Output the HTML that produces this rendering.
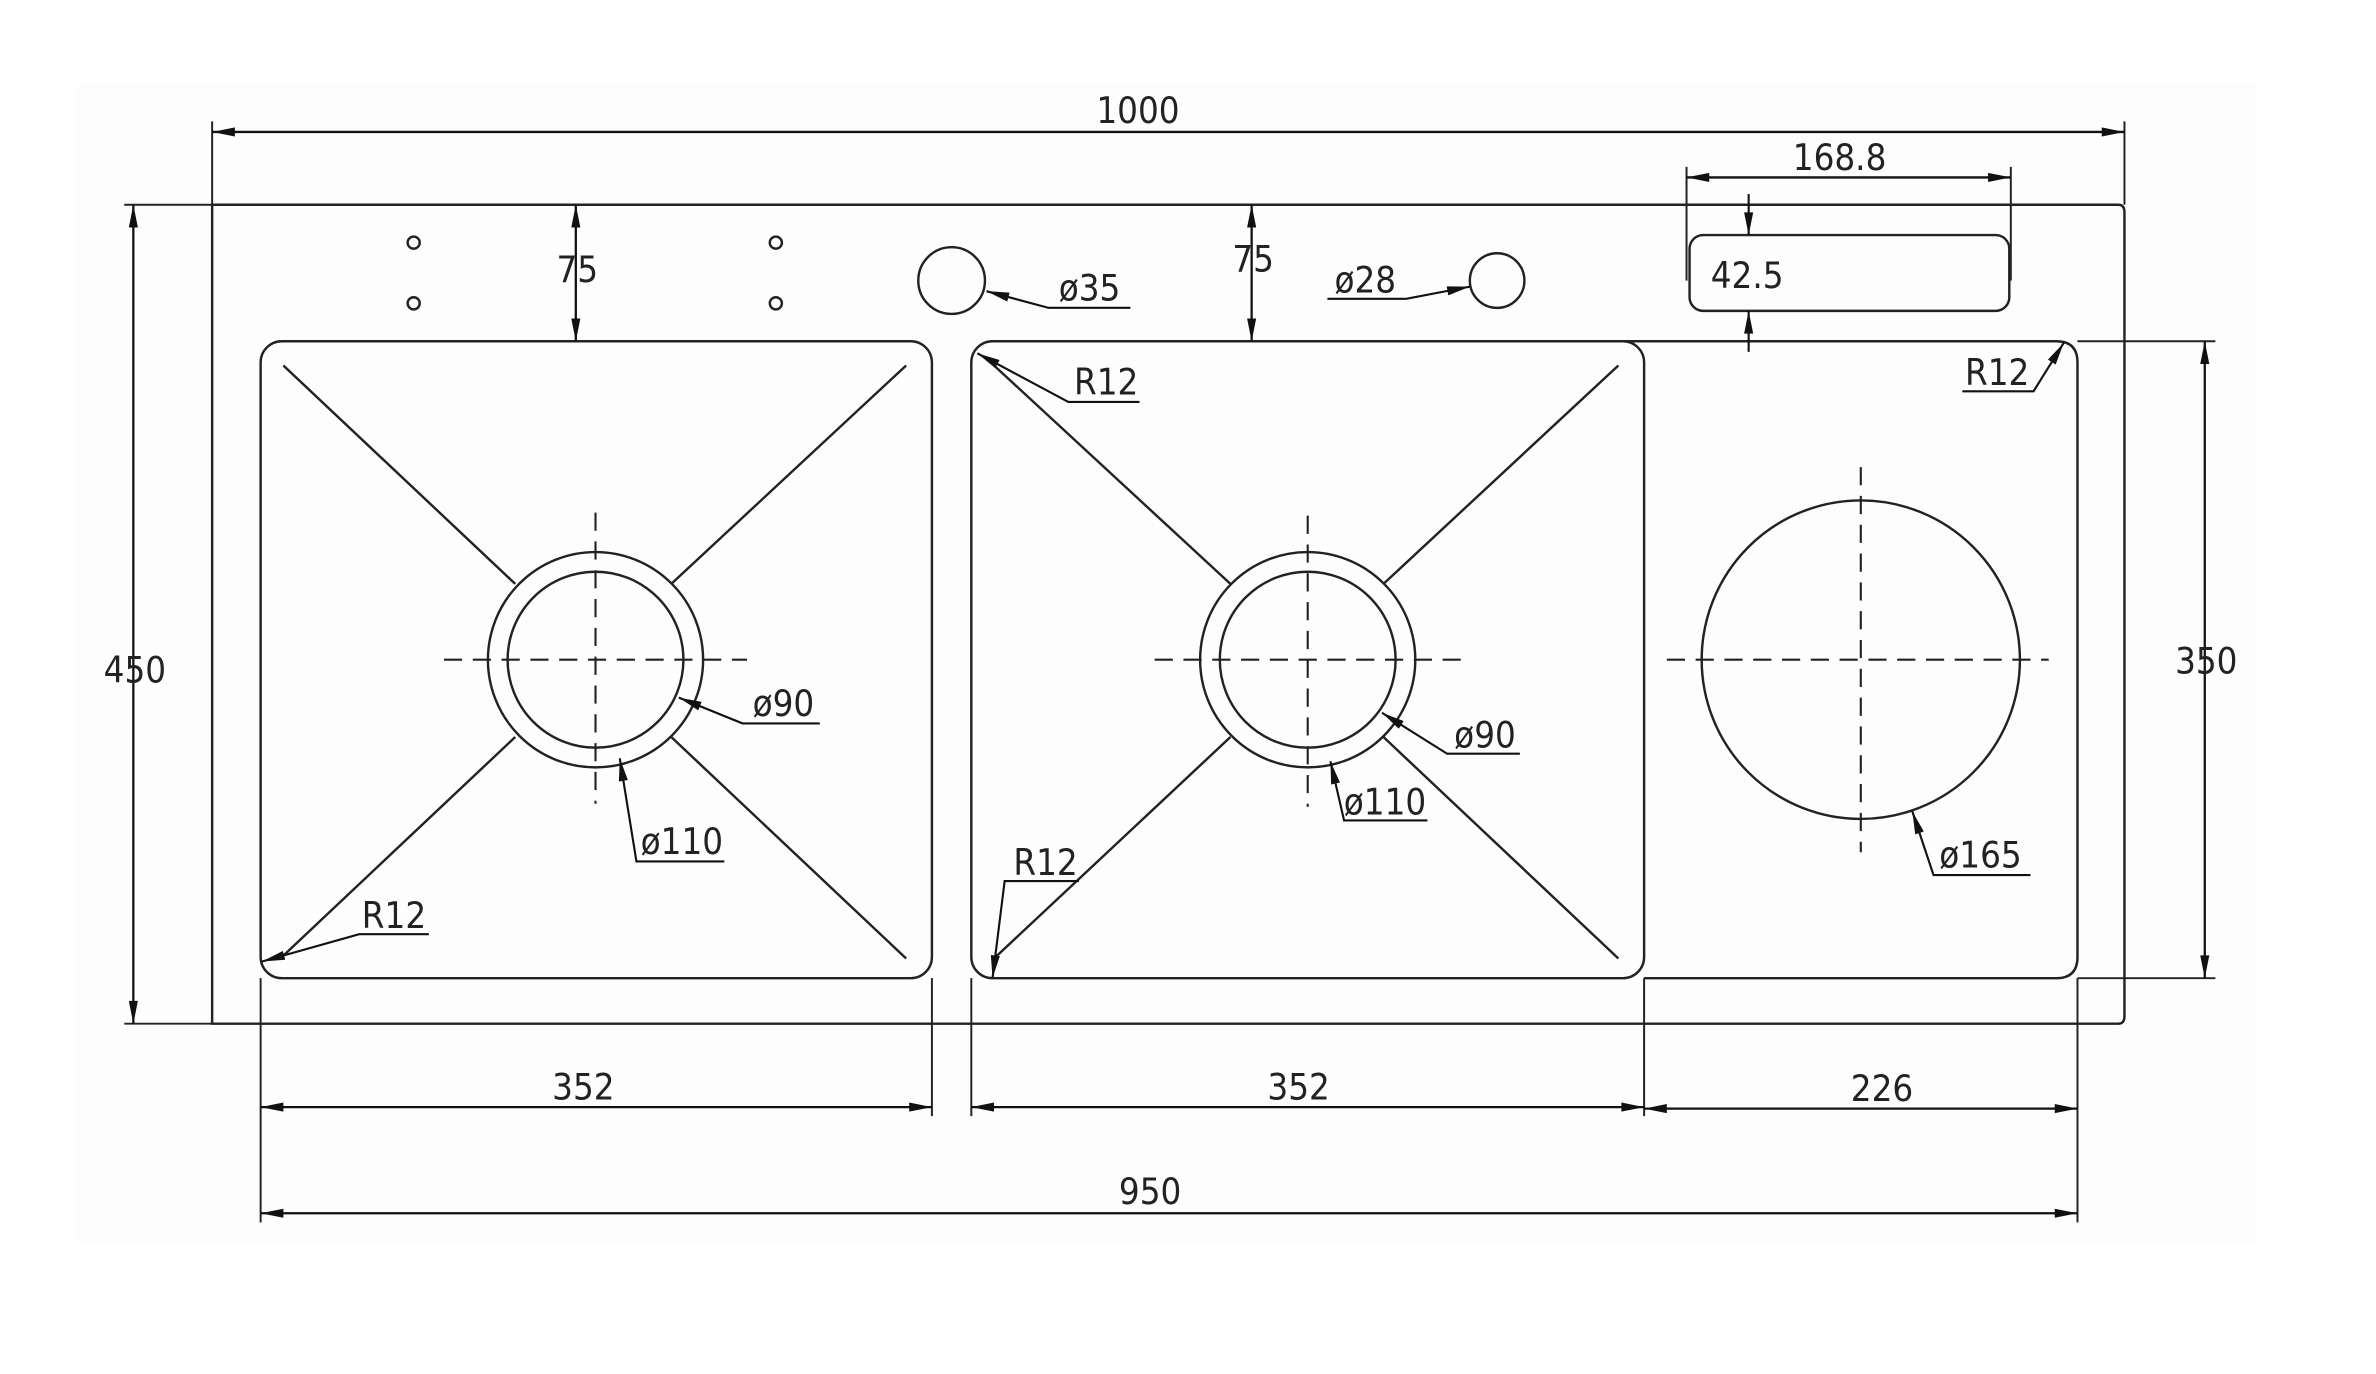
<!DOCTYPE html>
<html><head><meta charset="utf-8"><style>
html,body{margin:0;padding:0;background:#fff;width:2376px;height:1374px;overflow:hidden}
svg{display:block}
text{font-family:"DejaVu Sans Condensed","Liberation Sans Narrow","Liberation Sans",sans-serif;font-size:24px;fill:#222;text-anchor:middle;font-weight:300}
</style></head><body>
<svg width="2376" height="1374" viewBox="0 0 1568 906" preserveAspectRatio="none" xmlns="http://www.w3.org/2000/svg">
<defs>
<marker id="a" viewBox="0 0 10 4" refX="10" refY="2" markerWidth="16" markerHeight="6" markerUnits="userSpaceOnUse" orient="auto-start-reverse"><path d="M0,0 L10,2 L0,4 Z" fill="#111"/></marker>
</defs>
<rect x="50" y="55" width="1440" height="765" fill="#fdfdfd"/>
<g stroke="#222" stroke-width="1.6" fill="none">
<path d="M140,135 H1398 Q1402,135 1402,140 V670 Q1402,675 1398,675 H140 Z"/>
<rect x="172" y="225" width="443" height="420" rx="14"/>
<rect x="641" y="225" width="444" height="420" rx="14"/>
<path d="M1072,225 H1357 Q1371,225 1371,239 V631 Q1371,645 1357,645 H1085"/>
<line x1="187" y1="241" x2="340" y2="385"/><line x1="598" y1="241" x2="443" y2="385"/>
<line x1="340" y1="486" x2="185" y2="632"/><line x1="443" y1="486" x2="598" y2="632"/>
<line x1="656" y1="241" x2="812" y2="385"/><line x1="1068" y1="241" x2="913" y2="385"/>
<line x1="812" y1="486" x2="656" y2="632"/><line x1="913" y1="486" x2="1068" y2="632"/>
<circle cx="393" cy="435" r="71"/><circle cx="393" cy="435" r="58"/>
<circle cx="863" cy="435" r="71"/><circle cx="863" cy="435" r="58"/>
<circle cx="1228" cy="435" r="105"/>
<circle cx="273" cy="160" r="4"/><circle cx="273" cy="200" r="4"/>
<circle cx="512" cy="160" r="4"/><circle cx="512" cy="200" r="4"/>
<circle cx="628" cy="185" r="22"/><circle cx="988" cy="185" r="18"/>
<rect x="1115" y="155" width="211" height="50" rx="9"/>
</g>
<g stroke="#222" stroke-width="1.4" stroke-dasharray="12,7" fill="none">
<line x1="293" y1="435" x2="493" y2="435"/><line x1="393" y1="338" x2="393" y2="530"/>
<line x1="762" y1="435" x2="964" y2="435"/><line x1="863" y1="340" x2="863" y2="532"/>
<line x1="1100" y1="435" x2="1352" y2="435"/><line x1="1228" y1="308" x2="1228" y2="562"/>
</g>
<g stroke="#222" stroke-width="1.3" fill="none">
<line x1="140" y1="80" x2="140" y2="135"/><line x1="1402" y1="80" x2="1402" y2="135"/>
<line x1="82" y1="135" x2="140" y2="135"/><line x1="82" y1="675" x2="140" y2="675"/>
<line x1="1371" y1="225" x2="1462" y2="225"/><line x1="1371" y1="645" x2="1462" y2="645"/>
<line x1="1113" y1="110" x2="1113" y2="185"/><line x1="1327" y1="110" x2="1327" y2="185"/>
<line x1="172" y1="645" x2="172" y2="806"/><line x1="615" y1="645" x2="615" y2="736"/>
<line x1="641" y1="645" x2="641" y2="736"/><line x1="1085" y1="645" x2="1085" y2="736"/>
<line x1="1371" y1="645" x2="1371" y2="806"/>
</g>
<g stroke="#111" stroke-width="1.5" fill="none" marker-start="url(#a)" marker-end="url(#a)">
<line x1="140" y1="87" x2="1402" y2="87"/>
<line x1="88" y1="135" x2="88" y2="675"/>
<line x1="1455" y1="225" x2="1455" y2="645"/>
<line x1="1113" y1="117" x2="1327" y2="117"/>
<line x1="380" y1="135" x2="380" y2="225"/>
<line x1="826" y1="135" x2="826" y2="225"/>
<line x1="172" y1="730" x2="615" y2="730"/>
<line x1="641" y1="730" x2="1085" y2="730"/>
<line x1="1085" y1="731" x2="1371" y2="731"/>
<line x1="172" y1="800" x2="1371" y2="800"/>
</g>
<g stroke="#111" stroke-width="1.4" fill="none">
<line x1="1154" y1="128" x2="1154" y2="155" marker-end="url(#a)"/>
<line x1="1154" y1="232" x2="1154" y2="205" marker-end="url(#a)"/>
<polyline points="746,203 692,203 651,192" marker-end="url(#a)"/>
<polyline points="876,197 928,197 970,189" marker-end="url(#a)"/>
<polyline points="752,265 705,265 645,233" marker-end="url(#a)"/>
<polyline points="1295,258 1342,258 1362,226" marker-end="url(#a)"/>
<polyline points="541,477 490,477 448,460" marker-end="url(#a)"/>
<polyline points="478,568 420,568 409,500" marker-end="url(#a)"/>
<polyline points="283,616 237,616 173,634" marker-end="url(#a)"/>
<polyline points="1003,497 955,497 912,470" marker-end="url(#a)"/>
<polyline points="942,541 887,541 878,502" marker-end="url(#a)"/>
<polyline points="712,581 663,581 655,645" marker-end="url(#a)"/>
<polyline points="1340,577 1276,577 1262,535" marker-end="url(#a)"/>
</g>
<text x="751" y="81">1000</text>
<text x="89" y="450">450</text>
<text x="1456" y="444">350</text>
<text x="1214" y="112">168.8</text>
<text x="1153" y="190">42.5</text>
<text x="381" y="186">75</text>
<text x="827" y="179">75</text>
<text x="719" y="198">ø35</text>
<text x="901" y="193">ø28</text>
<text x="730" y="260">R12</text>
<text x="1318" y="254">R12</text>
<text x="517" y="472">ø90</text>
<text x="450" y="563">ø110</text>
<text x="260" y="612">R12</text>
<text x="980" y="493">ø90</text>
<text x="914" y="537">ø110</text>
<text x="690" y="577">R12</text>
<text x="1307" y="572">ø165</text>
<text x="385" y="725">352</text>
<text x="857" y="725">352</text>
<text x="1242" y="726">226</text>
<text x="759" y="794">950</text>
</svg>
</body></html>
